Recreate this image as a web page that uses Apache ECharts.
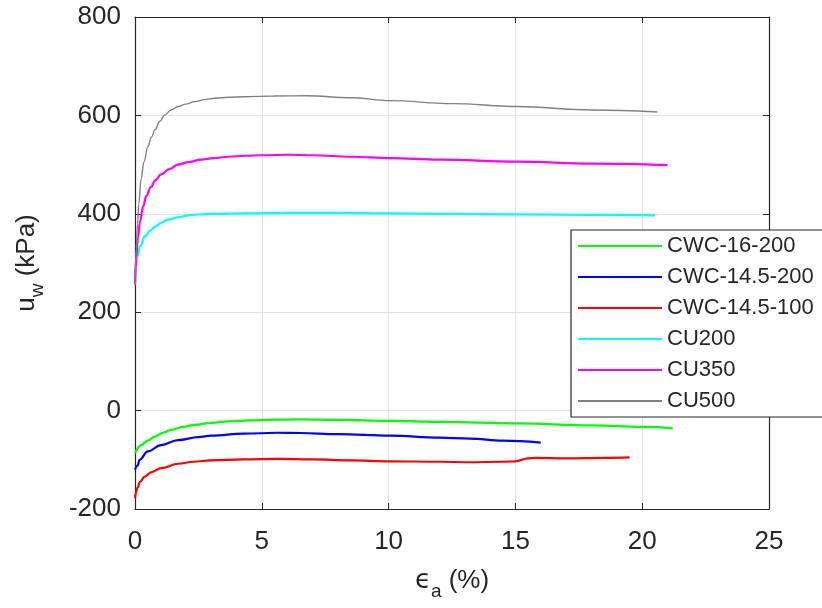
<!DOCTYPE html>
<html>
<head>
<meta charset="utf-8">
<script src="https://cdn.jsdelivr.net/npm/echarts@6/dist/echarts.min.js"></script>
<style>
  html, body { margin: 0; padding: 0; background: #ffffff; }
  #chart { width: 822px; height: 608px; }
</style>
</head>
<body>
<div id="chart"></div>
<script>
// Pore water pressure u_w (kPa) against axial strain eps_a (%)
const seriesNames = ['CWC-16-200', 'CWC-14.5-200', 'CWC-14.5-100', 'CU200', 'CU350', 'CU500'];
const seriesColors = ['#00ff00', '#0000ff', '#ff0000', '#00ffff', '#ff00ff', '#808080'];

const xTicks = [0, 5, 10, 15, 20, 25];
const yTicks = [-200, 0, 200, 400, 600, 800];

// [strain %, u_w kPa]
const cwc16_200 = [
  [0, -86], [0.25, -70], [0.5, -61], [0.78, -53], [1.1, -45], [1.43, -39], [1.9, -33],
  [2.35, -29], [3, -25], [3.67, -22], [4.5, -20], [5.5, -18.5], [6.5, -18], [8, -19],
  [10.05, -21], [12, -23], [15.05, -26], [18, -30], [20, -33], [21.2, -36]
];
const cwc145_200 = [
  [0, -120], [0.1, -112], [0.18, -100], [0.5, -83], [1.03, -70], [1.7, -60], [2.5, -54],
  [3, -51], [4.3, -47], [5.6, -45], [6.5, -45.5], [8, -48], [10.05, -51], [12, -55],
  [13.2, -57], [14.5, -61], [16.0, -65]
];
const cwc145_100 = [
  [0, -178], [0.05, -165], [0.09, -157], [0.2, -145], [0.38, -134], [0.65, -125], [1.03, -117],
  [1.7, -108], [2.3, -104], [3, -101], [4.3, -99], [5.6, -98], [7, -99], [8.5, -101],
  [10.05, -103], [12, -104], [13.2, -105], [14.5, -104], [15.0, -103], [15.5, -97],
  [15.8, -96], [17, -97], [18.5, -96], [19.5, -95]
];
const cu200 = [
  [0, 258], [0.04, 293], [0.1, 315], [0.2, 334], [0.39, 354], [0.6, 366], [0.79, 374],
  [1.05, 382], [1.3, 388], [1.7, 393], [2.1, 397], [2.6, 399], [3.15, 400], [4.4, 401],
  [6, 402], [8, 402], [10, 401], [12, 400], [15, 399], [18, 398], [20.5, 397]
];
const cu350 = [
  [0, 258], [0.05, 310], [0.12, 354], [0.2, 385], [0.32, 415], [0.45, 437], [0.63, 455],
  [0.8, 468], [1.03, 480], [1.35, 491], [1.7, 500], [2.1, 505], [2.6, 510], [3.1, 513],
  [3.67, 516], [4.38, 518], [5, 519], [6.1, 520], [7, 519], [8.5, 516], [10.05, 513],
  [12, 510], [15.06, 506], [18, 502], [21, 499]
];
const cu500 = [
  [0, 255], [0.05, 330], [0.1, 380], [0.15, 420], [0.24, 470], [0.35, 505], [0.51, 537],
  [0.65, 556], [0.79, 571], [0.98, 588], [1.18, 601], [1.42, 611], [1.7, 618], [2.0, 623],
  [2.37, 628], [2.75, 632], [3.15, 635], [3.7, 637], [4.3, 638], [5.5, 639.5], [6.8, 640],
  [8.5, 636], [10.05, 630], [12.5, 624], [15.06, 618], [18, 611], [20.6, 607]
];

const seriesData = [cwc16_200, cwc145_200, cwc145_100, cu200, cu350, cu500];
const lineWidths = [2.2, 2.2, 2.2, 2.2, 2.2, 1.4];

const textColor = '#262626';
const fontFamily = '"Liberation Sans", Arial, Helvetica, sans-serif';
const gridColor = '#e3e3e3';

const chart = echarts.init(document.getElementById('chart'), null, { renderer: 'canvas' });

const tickCommon = { show: true, inside: true, length: 6, lineStyle: { color: textColor, width: 1 } };
const lineCommon = { show: true, onZero: false, lineStyle: { color: textColor, width: 1.2 } };

const option = {
  backgroundColor: '#ffffff',
  animation: false,
  grid: { left: 135, right: 53, top: 17, bottom: 99 },
  legend: {
    orient: 'vertical',
    left: 571,
    top: 230,
    data: seriesNames.map(n => ({ name: n, icon: 'rect' })),
    itemWidth: 84,
    itemHeight: 2,
    itemGap: 7,
    padding: [4, 40, 4, 7],
    backgroundColor: '#ffffff',
    borderColor: textColor,
    borderWidth: 1.2,
    borderRadius: 0,
    textStyle: { fontSize: 22, lineHeight: 24, color: textColor, fontFamily: fontFamily }
  },
  xAxis: [
    {
      type: 'value', position: 'bottom', min: 0, max: 25, interval: 5,
      axisLine: lineCommon,
      axisTick: tickCommon,
      splitLine: { show: true, lineStyle: { color: gridColor, width: 1 } },
      axisLabel: {
        margin: 20, fontSize: 26, color: textColor, fontFamily: fontFamily,
        formatter: v => (xTicks.indexOf(v) >= 0 ? String(v) : '')
      },
      name: '{e|ϵ}{s|a}{n| (%)}',
      nameLocation: 'middle',
      nameGap: 52,
      nameTextStyle: {
        color: textColor, fontFamily: fontFamily,
        rich: {
          e: { fontSize: 26, lineHeight: 40, verticalAlign: 'middle', color: textColor, fontFamily: 'DejaVu Sans' },
          s: { fontSize: 19, lineHeight: 19, verticalAlign: 'bottom', color: textColor, fontFamily: fontFamily },
          n: { fontSize: 26, lineHeight: 40, verticalAlign: 'middle', color: textColor, fontFamily: fontFamily }
        }
      }
    },
    {
      type: 'value', position: 'top', min: 0, max: 25, interval: 5,
      axisLine: lineCommon,
      axisTick: tickCommon,
      splitLine: { show: false },
      axisLabel: { show: false }
    }
  ],
  yAxis: [
    {
      type: 'value', position: 'left', min: -200, max: 800, interval: 200,
      axisLine: lineCommon,
      axisTick: tickCommon,
      splitLine: { show: true, lineStyle: { color: gridColor, width: 1 } },
      axisLabel: {
        margin: 14, fontSize: 26, color: textColor, fontFamily: fontFamily,
        formatter: v => (yTicks.indexOf(v) >= 0 ? String(v) : '')
      },
      name: '{u|u}{s|w}{n| (kPa)}',
      nameLocation: 'middle',
      nameGap: 88,
      nameTextStyle: {
        color: textColor, fontFamily: fontFamily,
        rich: {
          u: { fontSize: 26, lineHeight: 40, verticalAlign: 'middle', color: textColor, fontFamily: fontFamily },
          s: { fontSize: 19, lineHeight: 19, verticalAlign: 'bottom', color: textColor, fontFamily: fontFamily },
          n: { fontSize: 26, lineHeight: 40, verticalAlign: 'middle', color: textColor, fontFamily: fontFamily }
        }
      }
    },
    {
      type: 'value', position: 'right', min: -200, max: 800, interval: 200,
      axisLine: lineCommon,
      axisTick: tickCommon,
      splitLine: { show: false },
      axisLabel: { show: false }
    }
  ],
  series: seriesNames.map((name, i) => ({
    name: name,
    type: 'line',
    xAxisIndex: 0,
    yAxisIndex: 0,
    data: seriesData[i],
    symbol: 'none',
    smooth: 0.4,
    smoothMonotone: 'x',
    color: seriesColors[i],
    lineStyle: { color: seriesColors[i], width: lineWidths[i] },
    emphasis: { disabled: true }
  }))
};

chart.setOption(option);
</script>
</body>
</html>
